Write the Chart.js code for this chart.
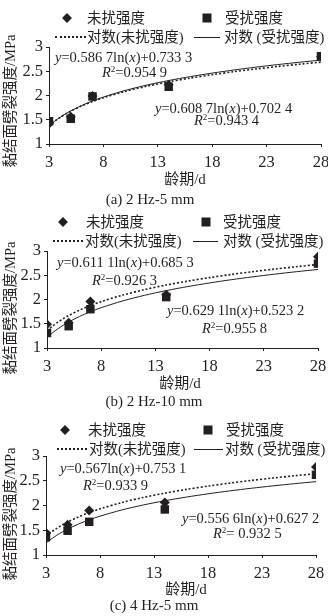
<!DOCTYPE html>
<html>
<head>
<meta charset="utf-8">
<script src="https://cdn.jsdelivr.net/npm/chart.js@4.4.0/dist/chart.umd.min.js"></script>
<style>
body { margin: 0; background: #fff; }
#wrap { position: relative; width: 328px; height: 616px; overflow: hidden; color: #231f20;
        font-family: "Liberation Serif", "Noto Sans CJK SC", serif; }
#wrap canvas { position: absolute; left: 0; }
.t { position: absolute; white-space: nowrap; font-size: 14.5px; line-height: 1; transform: translateY(-50%); z-index: 2; }
.c { transform: translate(-50%, -50%); font-size: 15px; }
.yt { transform: translate(-50%, -50%) rotate(-90deg); font-size: 14.5px; }
.sup { font-size: 9px; position: relative; top: -5px; }
.dia { position: absolute; width: 7px; height: 7px; background: #231f20; transform: translate(-50%, -50%) rotate(45deg); }
.sq { position: absolute; width: 9px; height: 9px; background: #231f20; transform: translate(-50%, -50%); }
.ln { position: absolute; height: 0; border-top: 1px solid #231f20; }
.dot { position: absolute; height: 0; border-top: 2px dotted #231f20; }
</style>
</head>
<body>
<div id="wrap"></div>
<script>
// ages (days) and tick values
const days = [3, 5, 7, 14, 28];
const xTicks = [3, 8, 13, 18, 23, 28];
const yTicks = [1, 1.5, 2, 2.5, 3];
const trendDays = [3, 3.5, 4, 4.5, 5, 6, 7, 8, 10, 12, 14, 16, 18, 20, 22, 24, 26, 28];

// strength values (MPa)
const undisturbedA = [1.42, 1.56, 1.99, 2.22, 2.80];
const disturbedA = [1.47, 1.52, 1.98, 2.18, 2.81];
const undisturbedB = [1.49, 1.52, 1.96, 2.10, 2.88];
const disturbedB = [1.31, 1.45, 1.80, 2.05, 2.74];
const undisturbedC = [1.45, 1.61, 1.90, 2.06, 2.78];
const disturbedC = [1.36, 1.49, 1.67, 1.92, 2.62];

// log fit coefficients printed on the figure: y = k ln(x) + b
const fitUndisturbed = [[0.5867, 0.7333], [0.6111, 0.6853], [0.567, 0.7531]];
const fitDisturbed = [[0.6087, 0.7024], [0.6291, 0.5232], [0.5566, 0.6272]];

const eqUndisturbed = ['0.586 7', '0.611 1', '0.567'];
const eqUndisturbedB = ['0.733 3', '0.685 3', '0.753 1'];
const r2Undisturbed = ['0.954 9', '0.926 3', '0.933 9'];
const eqDisturbed = ['0.608 7', '0.629 1', '0.556 6'];
const eqDisturbedB = ['0.702 4', '0.523 2', '0.627 2'];
const r2Disturbed = ['0.943 4', '0.955 8', ' 0.932 5'];
const captions = ['(a) 2 Hz-5 mm', '(b) 2 Hz-10 mm', '(c) 4 Hz-5 mm'];

const ink = '#231f20';
const wrap = document.getElementById('wrap');

// layout of each panel (pixel positions, not data)
const panels = [
    { top: 0, height: 200, area: [49, 47, 321, 144], und: undisturbedA, dis: disturbedA,
      leg: { r1: 18, r2: 37, dia: 67, t1: 87, sq: 207, t2: 225, dot: [55, 86], t3: 87, ln: [194, 220], t4: 224 },
      eq1: [55, 57], r1: [102, 72], eq2: [155, 108], r2: [194, 120], yt: [10, 101], xl: [185, 179], cap: [150, 199] },
    { top: 200, height: 200, area: [47, 51, 318, 148], und: undisturbedB, dis: disturbedB,
      leg: { r1: 22, r2: 41, dia: 63, t1: 86, sq: 206, t2: 223, dot: [53, 83], t3: 85, ln: [193, 218], t4: 223 },
      eq1: [57, 62], r1: [92, 80], eq2: [167, 110], r2: [202, 128], yt: [10, 108], xl: [180, 183], cap: [154, 201] },
    { top: 400, height: 216, area: [46, 56, 316, 155], und: undisturbedC, dis: disturbedC,
      leg: { r1: 30, r2: 49, dia: 65, t1: 88, sq: 208, t2: 226, dot: [57, 87], t3: 89, ln: [194, 223], t4: 225 },
      eq1: [60, 68], r1: [83, 85], eq2: [182, 118], r2: [213, 133], yt: [10, 114], xl: [186, 189], cap: [154, 205] }
];

function addText(html, x, y, cls) {
    const d = document.createElement('div');
    d.className = 't' + (cls ? ' ' + cls : '');
    d.style.left = x + 'px';
    d.style.top = y + 'px';
    d.innerHTML = html;
    wrap.appendChild(d);
    return d;
}

function addShape(cls, x, y, w) {
    const d = document.createElement('div');
    d.className = cls;
    d.style.left = x + 'px';
    d.style.top = y + 'px';
    if (w) d.style.width = w + 'px';
    wrap.appendChild(d);
}

const fitPoints = (coef) => trendDays.map(d => ({ x: d, y: coef[0] * Math.log(d) + coef[1] }));
const pts = (vals) => days.map((d, i) => ({ x: d, y: vals[i] }));

panels.forEach((p, i) => {
    const canvas = document.createElement('canvas');
    canvas.width = 328;
    canvas.height = p.height;
    canvas.style.top = p.top + 'px';
    wrap.appendChild(canvas);

    const xH = 26;
    new Chart(canvas.getContext('2d'), {
        type: 'scatter',
        data: {
            datasets: [
                { label: '受扰强度', data: pts(p.dis), pointStyle: 'rect', pointRadius: 6,
                  backgroundColor: ink, borderColor: ink, borderWidth: 0, order: 0 },
                { label: '未扰强度', data: pts(p.und), pointStyle: 'rectRot', pointRadius: 5,
                  backgroundColor: ink, borderColor: ink, borderWidth: 0, order: 1 },
                { label: '对数(未扰强度)', type: 'line', data: fitPoints(fitUndisturbed[i]), showLine: true,
                  pointRadius: 0, borderColor: ink, borderWidth: 1.6, borderDash: [2, 2], tension: 0.3, fill: false, order: 2 },
                { label: '对数 (受扰强度)', type: 'line', data: fitPoints(fitDisturbed[i]), showLine: true,
                  pointRadius: 0, borderColor: ink, borderWidth: 1, tension: 0.3, fill: false, order: 3 }
            ]
        },
        options: {
            responsive: false,
            animation: false,
            events: [],
            layout: { padding: { left: 0, top: p.area[1], right: 328 - p.area[2], bottom: p.height - p.area[3] - xH } },
            plugins: { legend: { display: false }, tooltip: { enabled: false } },
            scales: {
                x: {
                    type: 'linear', min: 3, max: 28,
                    afterBuildTicks: s => { s.ticks = xTicks.map(v => ({ value: v })); },
                    afterFit: s => { s.height = xH; s.paddingLeft = 0; s.paddingRight = 0; },
                    border: { color: ink, width: 1 },
                    grid: { drawOnChartArea: false, drawTicks: true, tickLength: 3, color: ink },
                    ticks: { color: ink, font: { family: 'Liberation Serif', size: 16.5 }, padding: 6, maxRotation: 0, autoSkip: false,
                             callback: v => String(v) }
                },
                y: {
                    type: 'linear', min: 1, max: 3,
                    afterBuildTicks: s => { s.ticks = yTicks.map(v => ({ value: v })); },
                    afterFit: s => { s.width = p.area[0]; s.paddingTop = 0; s.paddingBottom = 0; },
                    border: { color: ink, width: 1 },
                    grid: { drawOnChartArea: false, drawTicks: true, tickLength: 3, color: ink },
                    ticks: { color: ink, font: { family: 'Liberation Serif', size: 16.5 }, padding: 3, autoSkip: false,
                             callback: v => String(v) }
                }
            }
        }
    });

    const T = p.top, L = p.leg;
    addShape('dia', L.dia, T + L.r1);
    addText('未扰强度', L.t1, T + L.r1);
    addShape('sq', L.sq, T + L.r1);
    addText('受扰强度', L.t2, T + L.r1);
    addShape('dot', L.dot[0], T + L.r2 - 1, L.dot[1] - L.dot[0]);
    addText('对数(未扰强度)', L.t3, T + L.r2);
    addShape('ln', L.ln[0], T + L.r2, L.ln[1] - L.ln[0]);
    addText('对数 (受扰强度)', L.t4, T + L.r2);

    addText('<i>y</i>=' + eqUndisturbed[i] + 'ln(<i>x</i>)+' + eqUndisturbedB[i], p.eq1[0], T + p.eq1[1]);
    addText('<i>R</i><span class="sup">2</span>=' + r2Undisturbed[i], p.r1[0], T + p.r1[1]);
    addText('<i>y</i>=' + eqDisturbed[i] + 'ln(<i>x</i>)+' + eqDisturbedB[i], p.eq2[0], T + p.eq2[1]);
    addText('<i>R</i><span class="sup">2</span>=' + r2Disturbed[i], p.r2[0], T + p.r2[1]);

    addText('黏结面劈裂强度/MPa', p.yt[0], T + p.yt[1], 'yt');
    addText('龄期/d', p.xl[0], T + p.xl[1], 'c');
    addText(captions[i], p.cap[0], T + p.cap[1], 'c');
});
</script>
</body>
</html>
